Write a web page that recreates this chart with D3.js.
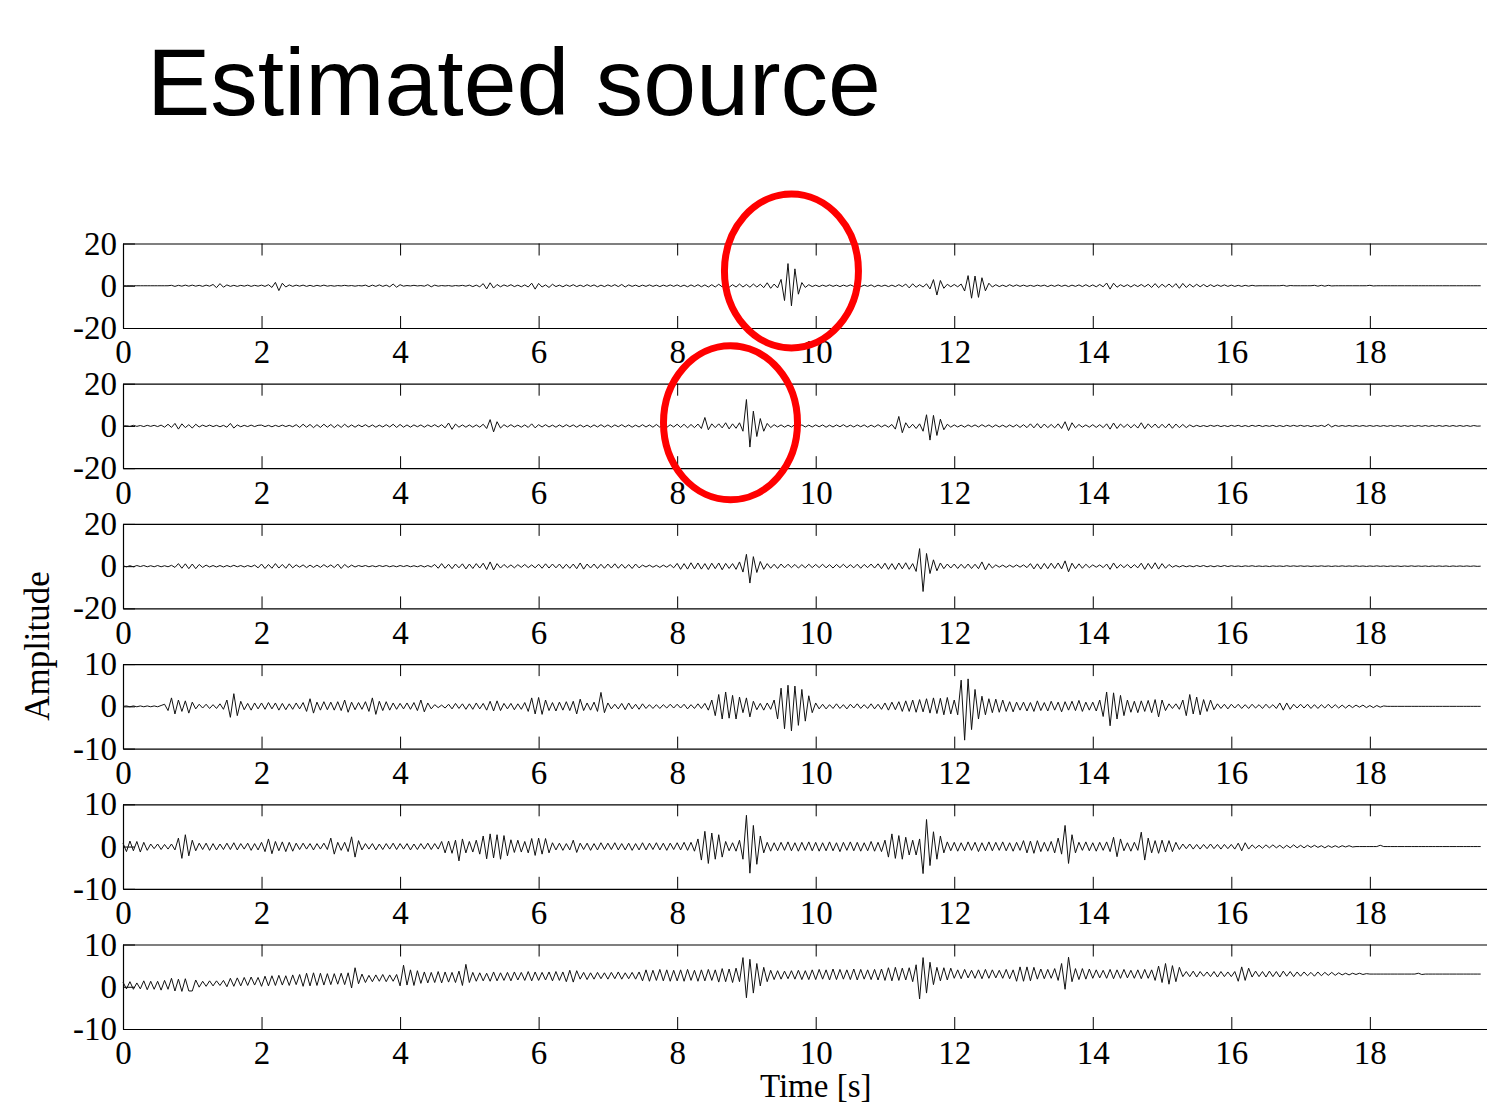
<!DOCTYPE html>
<html>
<head>
<meta charset="utf-8">
<script src="https://cdn.jsdelivr.net/npm/d3@7"></script>
<style>
  body { margin: 0; background: #fff; }
  svg { display: block; }
</style>
</head>
<body>
<svg id="chart" width="1487" height="1116"></svg>
<script>
// sample spacing of the traces (s)
const dt = 0.05;
const xTicks = [0, 2, 4, 6, 8, 10, 12, 14, 16, 18];
const yLimits = [20, 20, 20, 10, 10, 10];
const titleText = "Estimated source";
const xLabel = "Time [s]";
const yLabel = "Amplitude";

// traces, one row per second
const s1 = [
  0,0,0,0,0,0,0,0,0,0,0,0,0,0,.2,-.3,.2,-.2,.3,-.2,
  .3,-.2,.2,-.3,.3,-.2,.6,-.9,1,-.7,.4,-.3,.2,-.3,.2,-.2,.3,-.3,.2,-.2,
  .3,-.3,.5,-.8,1.6,-2.3,1.2,-.6,.4,-.3,.3,-.2,.3,-.3,.2,-.3,.2,-.2,.3,-.2,
  .1,-.2,.1,-.1,.2,-.1,.1,-.2,.1,-.1,.3,-.4,.3,-.3,.4,-.3,.3,-.5,.8,-.7,
  .5,-.2,.1,-.1,.2,-.1,.1,-.2,.5,-.5,.3,-.2,.1,-.1,.1,-.2,.1,-.1,.2,-.2,
  .3,-.4,.3,-.5,1,-1.5,1.4,-1.1,.6,-.5,.4,-.3,.5,-.4,.3,-.5,.4,-.6,1.2,-1.6,
  1.1,-.6,.4,-.8,.7,-.4,.3,-.5,.4,-.3,.5,-.4,.3,-.4,.5,-.3,.4,-.5,.3,-.4,
  .4,-.3,.5,-.4,.6,-.6,.4,-.3,.3,-.4,.3,-.3,.4,-.3,.3,-.4,.3,-.3,.4,-.3,
  .4,-.4,.3,-.5,.4,-.4,.5,-.5,.4,-.6,.5,-.6,.7,-.5,.6,-.7,.5,-.6,.8,-.6,
  .6,-.7,.8,-.6,.7,-.9,1.4,-1.2,.8,-1,3,-7,10.5,-9.5,8,-4,1.5,-.8,.5,-.4,
  .3,-.4,.3,-.3,.4,-.3,.3,-.4,.3,-.3,.4,-.3,.3,-.4,.3,-.3,.4,-.5,.3,-.3,
  .3,-.4,.3,-.4,.5,-.4,.8,-1,.9,-.7,.5,-.6,.9,-1.5,2.9,-4.4,2.5,-1.2,.7,-.5,
  .6,-.5,.8,-2.5,4.8,-5.9,4.6,-5.5,3.8,-2.4,1.2,-.6,.5,-.4,.3,-.4,.5,-.3,.4,-.3,
  .3,-.3,.2,-.3,.3,-.2,.3,-.4,.3,-.3,.4,-.3,.3,-.4,.3,-.3,.4,-.4,.5,-.4,
  .4,-.5,.6,-.5,1.3,-1.6,1.2,-.7,.5,-.4,.5,-.6,.5,-.4,.6,-.5,.7,-.8,1,-.9,
  .7,-.6,.8,-.7,1,-1.2,1.1,-.8,.7,-.6,.7,-.5,.6,-.5,.5,-.4,.4,-.3,.4,-.3,
  .3,-.3,.2,-.3,.2,-.2,.2,-.1,0,0,0,0,0,0,0,.2,-.2,.1,0,0,
  0,0,0,0,.2,-.2,.2,-.2,.2,-.1,0,0,0,0,0,0,0,0,0,0,
  .2,-.1,0,0,0,0,0,0,0,0,0,0,0,0,0,0,0,0,0,0,
  0,0,0,0,0,0,0,0,0,0,0,0,0
];
const s2 = [
  0,.1,-.2,.3,-.2,.2,-.3,.3,-.2,.3,-.3,.4,-.6,.8,-.7,1.2,-1.5,1,-.8,.6,
  -1,.8,-.5,.4,-.3,.4,-.3,.3,-.4,.3,-.6,1.2,-1,.5,-.4,.3,-.3,.4,-.3,.3,
  .4,-.3,.3,-.4,.3,-.3,.4,-.3,.3,-.4,.6,-.7,.8,-.6,.7,-.8,.6,-.7,.8,-.6,
  .7,-.8,.6,-.7,.8,-.6,.5,-.6,.5,-.4,.6,-.5,.5,-.6,.4,-.5,.6,-.5,.8,-.7,
  .7,-.6,.5,-.6,.5,-.4,.5,-.6,.5,-.4,.6,-.5,.6,-.9,1.4,-1.6,.9,-.6,.5,-.6,
  .5,-.6,.5,-.6,.8,-1.2,3,-2.8,2,-1,.6,-.5,.6,-.5,.4,-.6,.5,-.7,1,-.9,
  .6,-.5,.6,-.5,.4,-.6,.5,-.5,.6,-.4,.5,-.6,.5,-.5,.4,-.6,.5,-.5,.6,-.5,
  .5,-.6,.5,-.4,.6,-.5,.5,-.6,.4,-.5,.6,-.5,.5,-.6,.7,-.6,.5,-.7,.6,-.5,
  .8,-.7,.8,-.9,.7,-.8,.9,-1.2,4,-1.8,1,-.8,1,-.9,1.5,-1.4,1,-1.1,1.5,-2.5,
  12.5,-10,7,-5,3.5,-2.5,1.2,-.8,.6,-.5,.5,-.6,.4,-.5,.6,-.4,.5,-.5,.4,-.5,
  .5,-.4,.5,-.6,.4,-.5,.5,-.4,.6,-.5,.4,-.5,.5,-.4,.5,-.6,.4,-.5,.6,-.5,
  .5,-.6,.7,-1.5,4.5,-3.2,1.5,-1,.8,-1.2,1,-2.5,5.3,-6.7,5,-4.5,3.2,-1.8,.8,-.6,
  .5,-.5,.4,-.6,.5,-.4,.5,-.5,.6,-.4,.5,-.6,.5,-.5,.4,-.6,.5,-.5,.6,-.7,
  .6,-.8,1,-.9,1.1,-1,.9,-.8,.7,-.9,1,-1.2,2,-2.2,1.5,-.9,.7,-.6,.5,-.6,
  .6,-.7,.6,-.8,1,-1.5,1.4,-1.2,.9,-.7,.8,-.9,.7,-1,1.5,-1.3,1,-.8,.9,-1,
  .8,-.9,1,-1.1,.9,-.8,.7,-.8,.5,-.4,.3,-.3,.2,-.3,.3,-.2,.3,-.3,.2,-.3,
  .3,-.2,.3,-.3,.2,-.3,.3,-.2,.3,-.3,.2,-.2,.3,-.3,.2,-.3,.3,-.2,.3,-.2,
  .3,-.2,.2,-.3,.2,-.2,.3,-.3,.8,-.5,.3,-.2,.2,-.2,.2,-.2,.2,-.2,.2,-.2,
  .2,-.2,.2,-.2,.2,-.2,.2,-.2,.2,-.2,.2,-.2,.2,-.2,.2,-.2,.2,-.2,.2,-.2,
  .2,-.2,.2,-.2,.2,-.2,.2,-.2,.2,-.2,.2,-.1,0
];
const s3 = [
  .2,-.3,.2,-.3,.3,-.2,.3,-.3,.2,-.3,.3,-.3,.2,-.3,.4,-.6,1.2,-1,1.1,-1.2,
  1,-1.2,.8,-.6,.5,-.4,.3,-.4,.3,-.4,.3,-.3,.4,-.3,.3,-.4,.3,-.3,.5,-.8,
  1,-1.1,.8,-1,1.2,-.9,.8,-1,1.1,-.8,.6,-.5,.6,-.7,.5,-.6,.5,-.6,.7,-.5,
  .6,-.7,1,-1.1,.8,-.6,.5,-.4,.3,-.2,.3,-.3,.2,-.3,.3,-.2,.3,-.3,.2,-.3,
  .3,-.2,.3,-.3,.2,-.3,.3,-.4,.3,-.4,.8,-1,1.2,-1,.9,-1.2,1,-.8,1.1,-1.3,
  1,-1.1,1.2,-.9,1.4,-1.6,2,-1.8,1.2,-.9,.8,-.7,.6,-.8,.7,-.6,.8,-.7,.6,-.8,
  .9,-1,1.1,-.9,1,-.8,1,-1.1,.9,-1,1,-1.2,1.5,-1.4,1,-.9,1,-1.1,.9,-1,
  1,-.9,1.1,-1,.9,-1,.8,-1.1,1,-.8,.5,-.4,.5,-.5,.4,-.6,.5,-.5,.7,-.8,
  1.3,-1.5,1.2,-1.4,1.6,-1.3,1.5,-1.4,1.2,-1.6,1.4,-1.2,1.5,-1.7,1.3,-1.1,1.2,-1.5,2,-2.8,
  5.6,-8,4.5,-3,2.2,-1.5,1.2,-1,.9,-1.1,1,-.8,.9,-.7,.8,-.9,.7,-.8,.9,-.7,
  .8,-.7,.9,-.8,.7,-.9,.8,-.7,.9,-.8,.7,-.8,.9,-1,.8,-.7,1,-.9,1.1,-1.2,
  1.4,-1.5,1.2,-1.6,1.5,-1.3,1.6,-1.5,1.2,-2.5,8.3,-12,6,-3.5,3,-2.2,1.5,-1.2,1,-.9,
  1,-1.1,.9,-1,1,-1.1,.9,-1.2,2,-1.8,1.2,-.9,.6,-.5,.5,-.6,.5,-.5,.6,-.5,
  .6,-.7,1.2,-1.3,1.1,-1.4,1.3,-1.2,1.4,-1.1,1.5,-1.3,2.5,-2.7,1.4,-1.2,1.1,-1,.9,-.7,
  .6,-.5,.6,-.7,1,-1.5,1.5,-1,.8,-.7,.8,-.9,.7,-.8,1.4,-1.5,1.3,-1.2,1.6,-1.4,
  1.2,-1,.8,-.5,.3,-.4,.3,-.3,.2,-.3,.3,-.2,.3,-.3,.2,-.3,.2,-.2,.3,-.2,
  .2,-.15,.1,-.2,.15,-.1,.2,-.15,.1,-.15,.1,-.2,.15,-.1,.1,-.15,.2,-.1,.15,-.1,
  .15,-.1,.1,-.15,.1,-.1,.15,-.1,.1,-.15,.1,-.1,.15,-.1,.1,-.1,.15,-.1,.1,-.15,
  .1,-.1,.15,-.1,.1,-.15,.1,-.1,.1,-.15,.1,-.1,.15,-.1,.1,-.1,.1,-.15,.1,-.1,
  .1,-.1,.1,-.15,.1,-.1,.1,-.1,.1,-.1,.1,-.1,0
];
const s4 = [
  0,.1,-.1,.1,-.1,.1,-.1,.1,-.1,.1,-.1,.2,.5,-1,2,-1.8,1.5,-1.2,1.3,-1.6,
  1,-.6,.5,-.4,.5,-.5,.4,-.5,.6,-.7,1.5,-2.6,3,-2.2,1.2,-.8,.7,-.9,.8,-.6,
  .8,-.7,.9,-.6,.8,-.9,.7,-.8,.6,-.7,.8,-.6,.9,-1.2,1.8,-1.6,1,-.9,1.1,-.8,
  1,-.9,1.1,-1,1.5,-1.4,1,-.8,.9,-.7,1.1,-1.2,2,-1.9,1.2,-1,1.1,-.9,.8,-.7,
  .7,-.6,.8,-.7,.9,-1,1.5,-1.3,.8,-.6,.4,-.3,.3,-.4,.5,-.6,.7,-.5,.6,-.7,
  .6,-.7,.8,-.6,.7,-.9,1.2,-1.1,1.3,-1,.7,-.6,.7,-.8,.6,-.7,.9,-1.2,2,-1.8,
  2.1,-1.9,1.5,-1,.9,-1.1,1,-.9,1.1,-1,1.2,-1.8,1.7,-1,.8,-.9,1,-1.2,3.3,-1.5,
  .8,-.6,.5,-.6,.7,-.8,.8,-.6,.5,-.7,.6,-.5,.4,-.5,.4,-.5,.4,-.4,.5,-.4,
  .5,-.4,.5,-.6,.4,-.5,.6,-.5,.7,-.9,1.5,-2.2,2.8,-3,3.4,-2.8,2.6,-3,2.2,-1.5,
  2,-2.5,1.2,-.8,.7,-.9,.8,-.7,1.5,-3,4.3,-5.3,5,-5.8,4.8,-4.5,4,-3.5,2.5,-1.5,
  .8,-.6,.5,-.6,.4,-.5,.6,-.5,.4,-.6,.5,-.4,.6,-.5,.4,-.5,.6,-.6,.5,-.7,
  .8,-.9,1,-.8,1.1,-1.2,1.3,-1.2,1.5,-1.4,1.6,-1.3,1.8,-1.6,2,-1.7,1.9,-2,2.1,-1.8,
  1.5,-2,6.2,-8,6.5,-5.5,4,-3,2.4,-2,1.8,-1.5,1.7,-1.4,1.5,-1.2,1.1,-1.3,1,-.9,
  1,-1.1,.9,-1.2,1.3,-1,.9,-1.1,1.2,-.9,1,-1.3,1.1,-.9,1.2,-1,1.4,-1.2,1,-.9,
  1,-1.1,1.5,-2.4,3.4,-4.6,3.2,-3,2.6,-2.2,1.5,-1.4,1.2,-1.5,1.3,-1.2,1.4,-1.5,1.6,-2.5,
  1.5,-1,.6,-.5,.6,-.7,1.5,-2.2,2.8,-1.8,2.2,-2,1.6,-1.2,1.5,-.8,.6,-.5,.5,-.6,
  .5,-.4,.5,-.5,.4,-.5,.5,-.4,.4,-.5,.5,-.4,.4,-.5,.8,-.9,.8,-.7,.5,-.4,
  .5,-.4,.5,-.5,.4,-.5,.4,-.4,.5,-.4,.4,-.4,.3,-.4,.3,-.3,.3,-.2,.3,-.3,
  .2,-.3,.2,-.2,.1,0,0,0,0,0,0,0,0,0,0,0,0,0,0,0,
  0,0,0,0,0,0,0,0,0,0,0,0,0
];
const s5 = [
  .8,-1.2,1.3,-1,1.2,-1.3,1,-.9,.6,-.5,.6,-.7,.5,-.6,.6,-.8,2,-2.8,2.8,-2.2,
  1.5,-1,.8,-.7,.8,-.9,.7,-.8,.6,-.7,.8,-.7,.9,-.8,.7,-.6,.8,-.9,.7,-.8,
  1,-1.2,1.8,-1.7,1.2,-1,1.1,-1.2,1,-1.1,.8,-.7,.8,-.6,.7,-.8,.7,-.6,.8,-.7,
  2,-1.8,1,-.9,1,-1.2,2.3,-2.5,1.4,-.8,.7,-.6,.7,-.8,.6,-.7,.7,-.6,.8,-.7,
  .7,-.6,.7,-.8,.6,-.7,.7,-.6,.8,-.7,.7,-.6,1.2,-1.5,1.3,-1.6,1.5,-3.4,1.8,-1.5,
  1.2,-1.3,1.5,-1.8,2.5,-2.9,3,-2.7,2.8,-3,2.6,-2.2,1.6,-1.4,1.5,-1.3,1.2,-1.5,1.9,-2.1,
  2,-1.8,1.9,-1.5,.9,-.8,.8,-.9,.7,-.8,1.5,-1.4,.8,-.7,.8,-.9,.7,-.8,.9,-.7,
  .8,-.7,.9,-.8,.7,-.8,.8,-.9,.7,-.8,.9,-.8,.8,-.7,.9,-.8,.8,-.9,.8,-.7,
  .9,-.8,1,-.9,1,-1.1,1.8,-3.2,3.6,-4,3.2,-3,2.8,-2.5,1.2,-1,.9,-1.1,1.5,-3,
  7.4,-6.3,5,-4.2,2.5,-1.5,1,-1.1,.9,-1,1,-.9,1.1,-1,.9,-1.1,1,-.9,1.1,-1,
  1,-1.1,.9,-1,1.1,-1,.9,-1.2,1,-.9,1.1,-1,1,-1.1,.9,-1,1.2,-1.1,1,-1.2,
  1.5,-2.5,3,-2.8,2.6,-3,2.2,-2,1.5,-2,1.8,-6.4,6.4,-4.5,3.5,-3,2.5,-1.5,1.1,-1,
  1,-1.1,.9,-1,1.1,-.9,1,-1.2,.9,-1,1.1,-1,1,-.9,1.1,-1,.9,-1.1,1,-.9,
  1.4,-1.5,1.3,-1.6,1.4,-1.2,1,-1.1,1.2,-1.5,2,-1.8,5,-4,2.8,-1.5,1,-.9,1.1,-1,
  .9,-1.1,1,-.9,1.1,-1.2,2.2,-2.4,1.8,-1,.9,-1.1,1,-.9,3.4,-3.2,2,-1.5,1.4,-1.6,
  1.5,-1.3,1.4,-1.2,1,-.7,.6,-.5,.6,-.6,.5,-.6,.5,-.5,.6,-.5,.5,-.6,.5,-.5,
  .5,-.6,.8,-1,.9,-.6,.4,-.4,.3,-.4,.4,-.3,.4,-.3,.3,-.4,.3,-.3,.4,-.3,
  .3,-.3,.3,-.2,.3,-.2,.2,-.3,.2,-.2,.2,-.2,.2,-.1,.2,-.1,0,0,0,0,
  0,0,0,.3,0,0,0,0,0,0,0,0,0,0,0,0,0,0,0,0,
  0,0,0,0,0,0,0,0,0,0,0,0,0
];
const s6 = [
  1.1,-.5,1.2,-.6,.9,-.5,1.4,-.7,1.3,-.6,1.3,-.8,1.5,-.6,2,-1,1.8,-1.1,1.9,-1,
  -1,1.6,-.1,1.3,.1,1.4,.2,1.4,.3,1.5,0,2,.1,2.1,.2,2.2,.3,2.3,.4,2.2,
  .1,2.5,.2,2.6,.3,2.7,.4,2.6,.3,2.8,.5,2.9,.1,3.2,.2,3.3,.3,3.2,.4,3.1,
  .5,3.1,.6,3.2,.5,3.3,-.3,4.5,.7,3,1,2.7,1.2,2.8,1.3,2.9,1.2,2.8,1.3,2.9,
  .2,5.1,.4,4,.3,3.8,.8,3.5,.9,3.4,1,3.6,.9,3.5,1.1,3.4,1,3.7,.3,5.3,
  1,3.4,1.3,3.3,1.4,3.2,1.3,3.5,1.4,3.3,1.5,3.4,1.4,3.5,1.6,3.4,1.5,3.6,1.4,3.5,
  1.5,3.4,1.6,3.5,1.4,3.6,1.5,3.5,1.2,3.9,1.1,3.8,1.8,3.4,1.7,3.3,1.8,3.4,1.9,3.3,
  1.8,3.4,1.9,3.5,1.8,3.3,1.9,3.4,1.8,3.5,1.4,4,1.3,3.9,1.5,4.1,1.4,4,1.3,3.9,
  1.4,4,1.3,4.1,1.5,3.9,1.3,4,1.4,4.1,1.5,4,1.1,4.3,1.2,4.2,1,4.4,1.2,6.9,
  -2.6,6.5,-1.5,5.5,.2,4.6,1.2,3.9,1.7,3.8,1.8,3.7,1.9,3.8,1.8,3.9,1.7,3.8,1.7,4,
  1.7,4.1,1.8,4,1.6,4.2,1.7,4.1,1.8,4,1.7,4.2,1.6,4.1,1.8,4,1.7,4.1,1.6,4.2,
  1.5,4.5,1.4,4.6,1.5,4.4,1.6,4.5,1.2,5.2,-2.9,6.9,-1.5,5.8,.5,4.6,1.4,4.5,1.6,4.4,
  2,4,1.9,4.1,2.1,3.9,2,4,1.9,4.1,2,4,2.1,3.9,2,4.1,1.9,4,1.3,4.7,
  1.3,4.7,1.4,4.6,1.8,4.2,1.9,4.1,2,4.3,1.5,5.5,-.6,7,1.2,4.3,1.7,4.3,1.8,4.2,
  2,4,2.1,3.9,2,4.1,1.9,4,2,4.1,2.1,3.9,2,4,1.9,4.1,2,4,1.5,4.9,
  1,5.5,.6,5,1.2,4.6,2.4,3.6,2.4,3.7,2.3,3.6,2.5,3.5,2.4,3.6,2.3,3.6,2.4,3.5,
  2.4,3.6,1.3,4.7,1.5,4.4,2.3,3.7,2.4,3.6,2.3,3.7,2.4,3.6,2.3,3.7,2.5,3.6,2.4,3.5,
  2.5,3.5,2.6,3.4,2.5,3.5,2.6,3.4,2.7,3.4,2.7,3.3,2.8,3.2,2.8,3.2,2.9,3.2,2.9,3.1,
  3,3,3,3,3,3,3,3,3,3,3,3,3,3,3.2,2.9,3,3,3,3,
  3,3,3,3,3,3,3,3,3,3,3,3,3
];
const traces = [s1, s2, s3, s4, s5, s6];

// red rings: panel index, time and amplitude of the centre
const rings = [
  { panel: 0, t: 9.65, amp: 7 },
  { panel: 1, t: 8.77, amp: 1.5 }
];

const svg = d3.select("#chart");
svg.append("rect").attr("width", 1487).attr("height", 1116).attr("fill", "#fff");

const serif = "'Liberation Serif', 'Times New Roman', Times, serif";
const fontSize = 33;

svg.append("text")
  .attr("x", 147).attr("y", 115)
  .attr("font-family", "'Liberation Sans', Arial, Helvetica, sans-serif")
  .attr("font-size", 95)
  .attr("fill", "#000")
  .text(titleText);

const left = 123, panelTop = 243.5, panelH = 84.5, panelStep = 140.2;
const x = d3.scaleLinear().domain([0, 19.72]).range([left, 1489]);

const panels = [];
traces.forEach((tr, k) => {
  const top = panelTop + k * panelStep;
  const lim = yLimits[k];
  const y = d3.scaleLinear().domain([-lim, lim]).range([top + panelH, top]);
  panels.push(y);
  const g = svg.append("g");

  const bottom = g.append("g")
    .attr("transform", `translate(0,${top + panelH})`)
    .call(d3.axisBottom(x).tickValues(xTicks).tickSizeInner(-12).tickSizeOuter(0)
      .tickPadding(12).tickFormat(d => String(d)));
  const topAx = g.append("g")
    .attr("transform", `translate(0,${top})`)
    .call(d3.axisTop(x).tickValues(xTicks).tickSizeInner(-12).tickSizeOuter(0).tickFormat(""));
  const leftAx = g.append("g")
    .attr("transform", `translate(${left},0)`)
    .call(d3.axisLeft(y).tickValues([-lim, 0, lim]).tickSizeInner(-12).tickSizeOuter(0)
      .tickPadding(6).tickFormat(d => String(d)));

  [bottom, topAx, leftAx].forEach(a => {
    a.selectAll("path.domain").attr("stroke", "#000").attr("stroke-width", 1.2);
    a.selectAll(".tick line").attr("stroke", "#000").attr("stroke-width", 1);
    a.selectAll("text")
      .attr("font-family", serif)
      .attr("font-size", fontSize)
      .attr("fill", "#000");
  });

  const line = d3.line()
    .x((d, i) => x(i * dt))
    .y(d => y(d));
  g.append("path")
    .datum(tr)
    .attr("fill", "none")
    .attr("stroke", "#111")
    .attr("stroke-width", 1)
    .attr("stroke-linejoin", "round")
    .attr("d", line);
});

svg.append("text")
  .attr("x", x(10)).attr("y", 1097)
  .attr("text-anchor", "middle")
  .attr("font-family", serif)
  .attr("font-size", fontSize)
  .text(xLabel);

svg.append("text")
  .attr("transform", "translate(49,646) rotate(-90)")
  .attr("text-anchor", "middle")
  .attr("font-family", serif)
  .attr("font-size", 35)
  .text(yLabel);

svg.selectAll("ellipse.ring")
  .data(rings)
  .join("ellipse")
  .attr("class", "ring")
  .attr("cx", d => x(d.t))
  .attr("cy", d => panels[d.panel](d.amp))
  .attr("rx", 67)
  .attr("ry", 77)
  .attr("fill", "none")
  .attr("stroke", "#f00")
  .attr("stroke-width", 7);
</script>
</body>
</html>
